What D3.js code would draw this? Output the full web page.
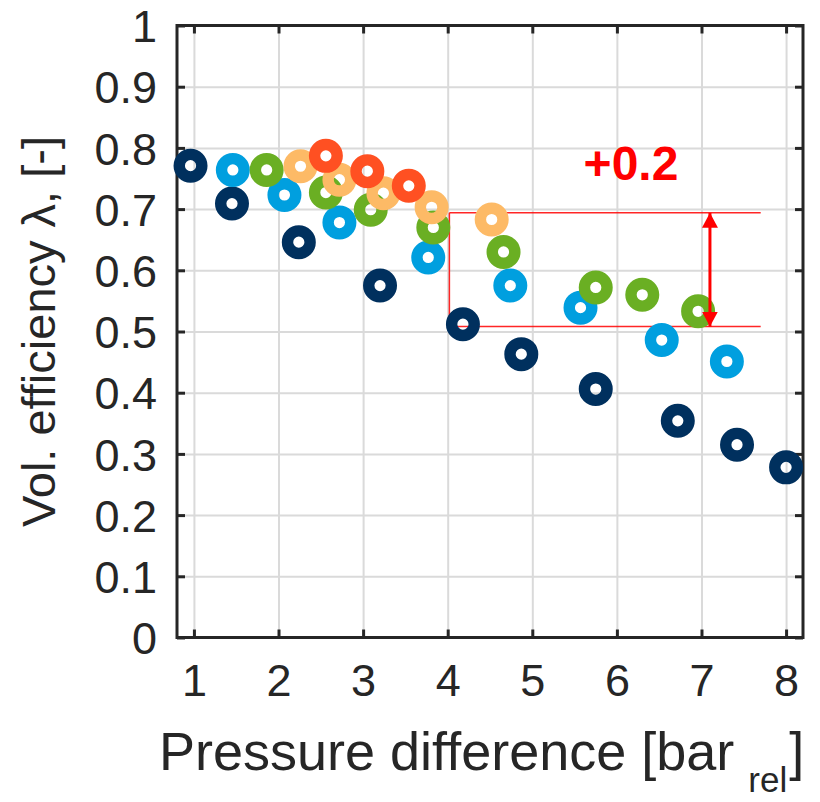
<!DOCTYPE html>
<html>
<head>
<meta charset="utf-8">
<script src="https://cdn.jsdelivr.net/npm/d3@7/dist/d3.min.js"></script>
<style>
  body { margin: 0; background: #fff; }
  text { font-family: "Liberation Sans", Arial, sans-serif; }
</style>
</head>
<body>
<svg id="chart"></svg>
<script>
// pressure difference [bar_rel] and volumetric efficiency per series
var navyX = [0.96, 1.45, 2.24, 3.20, 4.18, 4.87, 5.75, 6.72, 7.42, 8.00];
var navyY = [0.771, 0.709, 0.646, 0.575, 0.512, 0.463, 0.406, 0.354, 0.315, 0.278];
var blueX = [1.46, 2.07, 2.72, 3.77, 4.74, 5.57, 6.53, 7.30];
var blueY = [0.764, 0.723, 0.678, 0.621, 0.575, 0.539, 0.486, 0.451];
var greenX = [1.86, 2.56, 3.09, 3.83, 4.66, 5.75, 6.30, 6.96];
var greenY = [0.764, 0.727, 0.699, 0.670, 0.630, 0.572, 0.560, 0.533];
var sandX = [2.26, 2.72, 3.24, 3.81, 4.52];
var sandY = [0.770, 0.748, 0.726, 0.703, 0.683];
var redX = [2.56, 3.05, 3.54];
var redY = [0.787, 0.762, 0.738];

var xTicks = [1, 2, 3, 4, 5, 6, 7, 8];
var yTicks = [0, 0.1, 0.2, 0.3, 0.4, 0.5, 0.6, 0.7, 0.8, 0.9, 1];
var yTickLabels = ["0", "0.1", "0.2", "0.3", "0.4", "0.5", "0.6", "0.7", "0.8", "0.9", "1"];

// annotation: the +0.2 gap
var gapLevels = [0.508, 0.694];
var gapXStart = 4.02, gapXEnd = 7.70, gapArrowX = 7.10;
var gapLabel = "+0.2";

var WIDTH = 820, HEIGHT = 802,
    MARGINS = { top: 25.5, right: 17, bottom: 164.5, left: 177 };

var svg = d3.select("#chart").attr("width", WIDTH).attr("height", HEIGHT);

var xRange = d3.scaleLinear().domain([0.8, 8.2]).range([MARGINS.left, WIDTH - MARGINS.right]);
var yRange = d3.scaleLinear().domain([0, 1]).range([HEIGHT - MARGINS.bottom, MARGINS.top]);
var plotW = WIDTH - MARGINS.right - MARGINS.left,
    plotH = HEIGHT - MARGINS.bottom - MARGINS.top;

// grid
svg.append("g")
  .attr("transform", "translate(0," + (HEIGHT - MARGINS.bottom) + ")")
  .call(d3.axisBottom(xRange).tickValues(xTicks).tickSize(-plotH).tickFormat(""))
  .call(g => g.select(".domain").remove())
  .call(g => g.selectAll("line").attr("stroke", "#dadada").attr("stroke-width", 2));
svg.append("g")
  .attr("transform", "translate(" + MARGINS.left + ",0)")
  .call(d3.axisLeft(yRange).tickValues(yTicks).tickSize(-plotW).tickFormat(""))
  .call(g => g.select(".domain").remove())
  .call(g => g.selectAll("line").attr("stroke", "#dadada").attr("stroke-width", 2));

// axes with inward ticks
function styleAxis(g) {
  g.select(".domain").remove();
  g.selectAll("line").attr("stroke", "#262626").attr("stroke-width", 3);
  g.selectAll("text").attr("fill", "#262626").attr("font-size", 45)
    .attr("font-family", "'Liberation Sans', Arial, sans-serif");
}
svg.append("g")
  .attr("transform", "translate(0," + (HEIGHT - MARGINS.bottom) + ")")
  .call(d3.axisBottom(xRange).tickValues(xTicks).tickSize(-8).tickPadding(27))
  .call(styleAxis);
svg.append("g")
  .attr("transform", "translate(" + MARGINS.left + ",0)")
  .call(d3.axisLeft(yRange).tickValues(yTicks).tickSize(-8).tickPadding(20)
    .tickFormat(function (d, i) { return yTickLabels[i]; }))
  .call(styleAxis)
  .call(g => g.selectAll("text").attr("dy", "0.36em"));
svg.append("g")
  .attr("transform", "translate(0," + MARGINS.top + ")")
  .call(d3.axisTop(xRange).tickValues(xTicks).tickSize(-8).tickFormat(""))
  .call(styleAxis);
svg.append("g")
  .attr("transform", "translate(" + (WIDTH - MARGINS.right) + ",0)")
  .call(d3.axisRight(yRange).tickValues(yTicks).tickSize(-8).tickFormat(""))
  .call(styleAxis);

svg.append("rect")
  .attr("x", MARGINS.left).attr("y", MARGINS.top)
  .attr("width", plotW).attr("height", plotH)
  .attr("fill", "none").attr("stroke", "#262626").attr("stroke-width", 3);

// annotation lines
var red = "#ff0000";
svg.append("defs").selectAll("marker")
  .data(["head"]).enter().append("marker")
  .attr("id", "head")
  .attr("viewBox", "0 -8 15 16")
  .attr("refX", 15).attr("refY", 0)
  .attr("markerUnits", "userSpaceOnUse")
  .attr("markerWidth", 15).attr("markerHeight", 16)
  .attr("orient", "auto-start-reverse")
  .append("path").attr("d", "M0,-8L15,0L0,8Z").attr("fill", red);

gapLevels.forEach(function (v) {
  svg.append("line")
    .attr("x1", xRange(gapXStart)).attr("x2", xRange(gapXEnd))
    .attr("y1", yRange(v)).attr("y2", yRange(v))
    .attr("stroke", red).attr("stroke-width", 1.5).attr("stroke-opacity", 0.85);
});
svg.append("line")
  .attr("x1", xRange(gapXStart)).attr("x2", xRange(gapXStart))
  .attr("y1", yRange(gapLevels[0])).attr("y2", yRange(gapLevels[1]))
  .attr("stroke", red).attr("stroke-width", 1.5).attr("stroke-opacity", 0.85);

// points
var series = [
  { x: navyX, y: navyY, color: "#00305e" },
  { x: blueX, y: blueY, color: "#009fdf" },
  { x: greenX, y: greenY, color: "#6aaf23" },
  { x: sandX, y: sandY, color: "#fdba66" },
  { x: redX, y: redY, color: "#ff5022" }
];
series.forEach(function (s) {
  svg.append("g").selectAll("circle")
    .data(s.x.map(function (d, i) { return { x: d, y: s.y[i] }; }))
    .enter().append("circle")
    .attr("cx", function (d) { return xRange(d.x); })
    .attr("cy", function (d) { return yRange(d.y); })
    .attr("r", 11.3)
    .attr("fill", "none")
    .attr("stroke", s.color)
    .attr("stroke-width", 11.4);
});

// double arrow on top
svg.append("line")
  .attr("x1", xRange(gapArrowX)).attr("x2", xRange(gapArrowX))
  .attr("y1", yRange(gapLevels[1])).attr("y2", yRange(gapLevels[0]))
  .attr("stroke", red).attr("stroke-width", 3)
  .attr("marker-start", "url(#head)").attr("marker-end", "url(#head)");

svg.append("text")
  .attr("x", 631).attr("y", 180)
  .attr("text-anchor", "middle")
  .attr("font-size", 48).attr("font-weight", "bold")
  .attr("fill", red)
  .text(gapLabel);

// axis titles
svg.append("text")
  .attr("transform", "translate(55," + ((MARGINS.top + HEIGHT - MARGINS.bottom) / 2) + ") rotate(-90)")
  .attr("text-anchor", "middle")
  .attr("font-size", 47).attr("fill", "#262626")
  .text("Vol. efficiency λ, [-]");

var xt = svg.append("text")
  .attr("x", 159).attr("y", 770)
  .attr("font-size", 54).attr("fill", "#262626");
xt.append("tspan").text("Pressure difference [bar");
xt.append("tspan").attr("font-size", 35).attr("dy", 22).attr("dx", 14).text("rel");
xt.append("tspan").attr("dy", -22).attr("dx", 2).text("]");
</script>
</body>
</html>
